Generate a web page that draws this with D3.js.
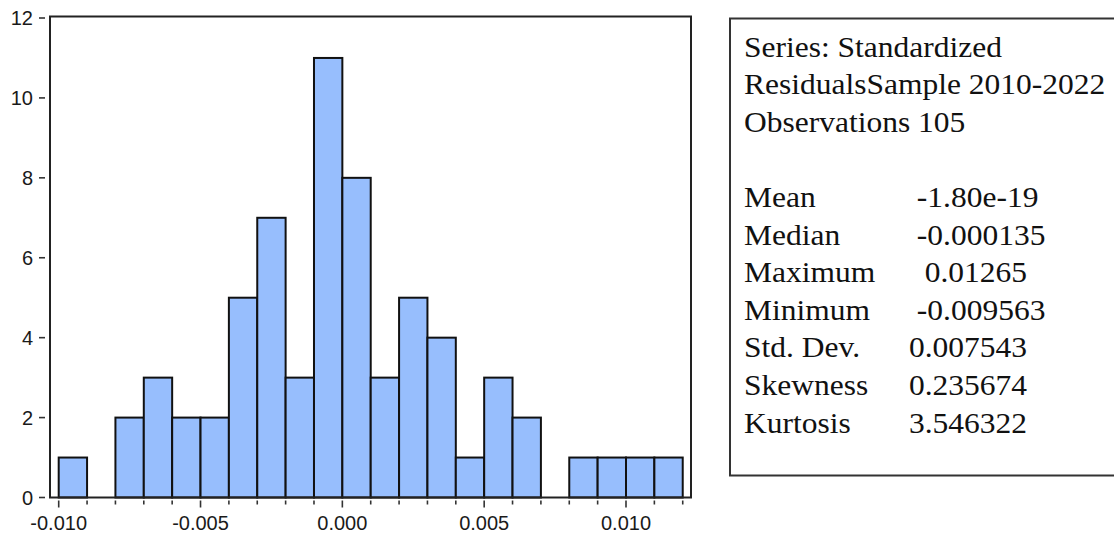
<!DOCTYPE html>
<html>
<head>
<meta charset="utf-8">
<script src="https://cdn.jsdelivr.net/npm/d3@7"></script>
<style>
    body { margin: 0; background: #fff; }
    svg { display: block; }
</style>
</head>
<body>
<div id="chart"></div>
<script>
// Histogram bins (width 0.001) and their counts
const binStarts = [-0.010, -0.009, -0.008, -0.007, -0.006, -0.005, -0.004, -0.003, -0.002, -0.001,
    0.000, 0.001, 0.002, 0.003, 0.004, 0.005, 0.006, 0.007, 0.008, 0.009, 0.010, 0.011];
const binCounts = [1, 0, 2, 3, 2, 2, 5, 7, 3, 11, 8, 3, 5, 4, 1, 3, 2, 0, 1, 1, 1, 1];
const binWidth = 0.001;

const yTicks = [0, 2, 4, 6, 8, 10, 12];
const xMajorTicks = [-0.010, -0.005, 0.000, 0.005, 0.010];

// Statistics panel
const headerLines = ['Series: Standardized', 'ResidualsSample 2010-2022', 'Observations 105'];
const statLabels = ['Mean', 'Median', 'Maximum', 'Minimum', 'Std. Dev.', 'Skewness', 'Kurtosis'];
const statValues = [' -1.80e-19', ' -0.000135', '  0.01265', ' -0.009563', '0.007543', '0.235674', '3.546322'];

const W = 1114, H = 535;
const frame = { left: 50, top: 16.5, right: 691, bottom: 497.5 };

const svg = d3.select('#chart').append('svg')
    .attr('width', W)
    .attr('height', H);

const xScale = d3.scaleLinear()
    .domain([-0.010, 0.010])
    .range([58.7, 626]);

const yScale = d3.scaleLinear()
    .domain([0, 12])
    .range([frame.bottom, 18]);

// Bars
svg.append('g')
    .selectAll('rect')
    .data(binStarts.map((s, i) => ({ start: s, count: binCounts[i] })).filter(d => d.count > 0))
    .enter()
    .append('rect')
    .attr('x', d => xScale(d.start))
    .attr('y', d => yScale(d.count))
    .attr('width', d => xScale(d.start + binWidth) - xScale(d.start))
    .attr('height', d => yScale(0) - yScale(d.count))
    .attr('fill', '#97BEFD')
    .attr('stroke', '#111')
    .attr('stroke-width', 2);

// Plot frame
svg.append('rect')
    .attr('x', frame.left)
    .attr('y', frame.top)
    .attr('width', frame.right - frame.left)
    .attr('height', frame.bottom - frame.top)
    .attr('fill', 'none')
    .attr('stroke', '#222')
    .attr('stroke-width', 2);

const axisFont = 'Liberation Sans, Arial, sans-serif';

// Y axis ticks + labels
const yAxis = svg.append('g').attr('class', 'y-axis');
yAxis.selectAll('line')
    .data(yTicks)
    .enter()
    .append('line')
    .attr('x1', 39)
    .attr('x2', 45)
    .attr('y1', d => yScale(d))
    .attr('y2', d => yScale(d))
    .attr('stroke', '#333')
    .attr('stroke-width', 1.6);
yAxis.selectAll('text')
    .data(yTicks)
    .enter()
    .append('text')
    .attr('x', 33)
    .attr('y', d => yScale(d))
    .attr('dy', '0.36em')
    .attr('text-anchor', 'end')
    .attr('font-family', axisFont)
    .attr('font-size', '20px')
    .attr('fill', '#1a1a1a')
    .text(d => d);

// X axis ticks: minor at every bin edge, major at 0.005 steps
const xEdges = binStarts.concat([binStarts[binStarts.length - 1] + binWidth]);
const isMajor = d => xMajorTicks.some(t => Math.abs(t - d) < 1e-9);
const xAxis = svg.append('g').attr('class', 'x-axis');
xAxis.selectAll('line')
    .data(xEdges)
    .enter()
    .append('line')
    .attr('x1', d => xScale(d))
    .attr('x2', d => xScale(d))
    .attr('y1', frame.bottom + 3)
    .attr('y2', d => isMajor(d) ? frame.bottom + 10 : frame.bottom + 7)
    .attr('stroke', '#333')
    .attr('stroke-width', 1.6);
xAxis.selectAll('text')
    .data(xMajorTicks)
    .enter()
    .append('text')
    .attr('x', d => xScale(d))
    .attr('y', 530)
    .attr('text-anchor', 'middle')
    .attr('font-family', axisFont)
    .attr('font-size', '20px')
    .attr('fill', '#1a1a1a')
    .text(d => d3.format('.3f')(d).replace('\u2212', '-'));

// Statistics box
const box = svg.append('g').attr('class', 'stats');
box.append('rect')
    .attr('x', 730)
    .attr('y', 18.5)
    .attr('width', 420)
    .attr('height', 457)
    .attr('fill', 'none')
    .attr('stroke', '#333')
    .attr('stroke-width', 2);

const lineY = i => 56.5 + i * 37.6;
const textFont = 'Liberation Serif, Times New Roman, serif';
// the panel text is slightly wider than a plain serif at this height
const stretch = 1.05;

function addLines(cls, data, x, offset) {
    box.selectAll('.' + cls)
        .data(data)
        .enter()
        .append('text')
        .attr('class', cls)
        .attr('transform', (d, i) => `translate(${x},${lineY(i + offset)}) scale(${stretch},1)`)
        .attr('font-family', textFont)
        .attr('font-size', '30px')
        .attr('fill', '#111')
        .style('white-space', 'pre')
        .text(d => d);
}

addLines('hdr', headerLines, 744, 0);
addLines('lbl', statLabels, 744, 4);
addLines('val', statValues, 909, 4);
</script>
</body>
</html>
